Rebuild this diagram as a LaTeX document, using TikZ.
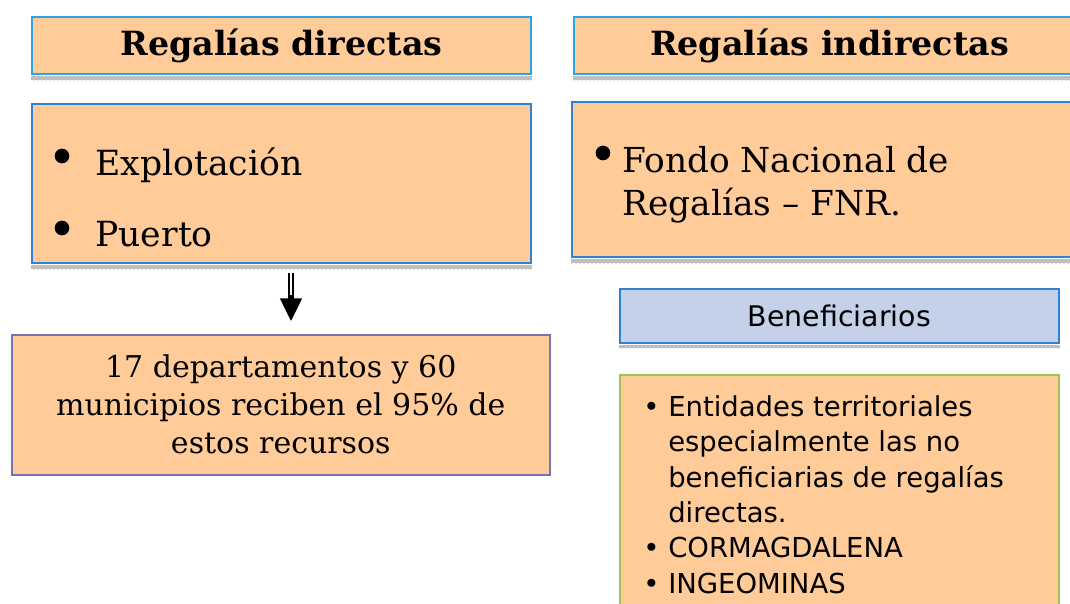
\documentclass[tikz,border=0pt]{standalone}
\usepackage{fontspec}
\setmainfont{DejaVu Serif}
\setsansfont{DejaVu Sans}
\usetikzlibrary{arrows.meta,positioning,patterns}
\definecolor{peach}{HTML}{FFCC99}
\definecolor{skyline}{HTML}{2AA4E2}
\definecolor{deepline}{HTML}{2F80D8}
\definecolor{lilacline}{HTML}{7474B4}
\definecolor{paleblue}{HTML}{C5D1E8}
\definecolor{leafline}{HTML}{9CC35A}
\tikzset{
  box/.style = {draw=deepline, fill=peach, line width=1.4pt, inner sep=0pt, anchor=north west},
  titlebox/.style = {box, draw=skyline, font=\bfseries\fontsize{25}{30}\selectfont},
  bigtext/.style = {inner sep=0pt, anchor=base west, font=\fontsize{25.8}{32.5}\selectfont},
  strip/.style = {fill=gray!45, postaction={pattern=crosshatch dots, pattern color=gray!95}},
}
\begin{document}
\begin{tikzpicture}[x=0.75pt,y=-0.75pt]
\clip (0,0) rectangle (1070,603);
\fill[white] (0,0) rectangle (1070,603);

% titulos
\node[titlebox, minimum width=374.25pt, minimum height=42.75pt] (tDir) at (31,16) {Regalías directas};
\node[titlebox, minimum width=383.25pt, minimum height=42.75pt] (tInd) at (573,16) {Regalías indirectas};
\fill[strip] ([yshift=-1.2pt]tDir.south west) rectangle ([yshift=-4pt]tDir.south east);
\fill[strip] ([yshift=-1.2pt]tInd.south west) rectangle ([yshift=-4pt]tInd.south east);

% cajas de contenido
\node[box, minimum width=374.25pt, minimum height=119.25pt] (bDir) at (31,103) {};
\node[box, minimum width=384.75pt, minimum height=116.25pt] (bInd) at (571,101) {};
\fill[strip] ([yshift=-1.2pt]bDir.south west) rectangle ([yshift=-4pt]bDir.south east);
\fill[strip] ([yshift=-1.2pt]bInd.south west) rectangle ([yshift=-4pt]bInd.south east);

\fill (62,156) circle (5.5pt);
\fill (62,228) circle (5.5pt);
\node[bigtext, font=\fontsize{26}{30}\selectfont] (exp) at (95,175) {Explotación};
\node[bigtext, font=\fontsize{26}{30}\selectfont] (pue) at (95,246) {Puerto};

\fill (603,153) circle (5.5pt);
\node[bigtext] (fnrA) at (622,172) {Fondo Nacional de};
\node[bigtext] (fnrB) at (622,215) {Regalías – FNR.};

% resultado directas
\node[box, draw=lilacline, line width=1.2pt, minimum width=403.5pt, minimum height=105pt,
      align=center, font=\fontsize{22.5}{28.5}\selectfont] (res) at (11,334)
      {17 departamentos y 60\\municipios reciben el 95\% de\\estos recursos};

\coordinate (aTop) at (291,273);
\coordinate (aMid) at (291,299);
\coordinate (aTip) at (291,321);
\draw[double, double distance=2.2pt, line width=1.2pt] (aTop) -- (aMid);
\draw[line width=1pt, -{Triangle[length=17pt,width=16.5pt]}] ([yshift=3pt]aMid) -- (aTip);

% beneficiarios
\node[box, draw=deepline, fill=paleblue, line width=1.2pt, minimum width=329.25pt, minimum height=40.5pt,
      font=\sffamily\fontsize{21.3}{25}\selectfont] (ben) at (619,288) {Beneficiarios};
\fill[strip] ([yshift=-1.2pt]ben.south west) rectangle ([yshift=-3.5pt]ben.south east);

\node[box, draw=leafline, line width=1.2pt, minimum width=329.25pt, minimum height=182pt] (ent) at (619,374) {};
\node[inner sep=0pt, anchor=north west, font=\sffamily\fontsize{20.6}{26.6}\selectfont] (lista) at (643,391)
  {\begin{tabular}{@{}p{18.75pt}@{}l@{}}
   • & Entidades territoriales\\
     & especialmente las no\\
     & beneficiarias de regalías\\
     & directas.\\
   • & CORMAGDALENA\\
   • & INGEOMINAS
   \end{tabular}};
\end{tikzpicture}
\end{document}
